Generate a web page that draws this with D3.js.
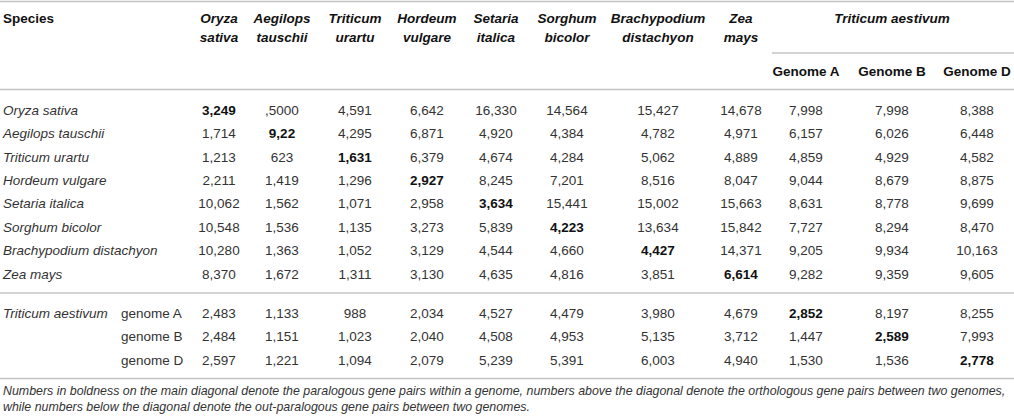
<!DOCTYPE html>
<html>
<head>
<meta charset="utf-8">
<script src="https://cdn.jsdelivr.net/npm/d3@7"></script>
<style>
  body { margin: 0; background: #fff; }
  svg { font-family: "Liberation Sans", Arial, Helvetica, sans-serif; }
</style>
</head>
<body>
<svg></svg>
<script>
// Table content
const speciesCols = ["Oryza sativa", "Aegilops tauschii", "Triticum urartu", "Hordeum vulgare",
  "Setaria italica", "Sorghum bicolor", "Brachypodium distachyon", "Zea mays"];
const genomeCols = ["Genome A", "Genome B", "Genome D"];
const genomeRows = ["genome A", "genome B", "genome D"];

// values kept as printed (including the odd ",5000" and "9,22")
const speciesValues = [
  ["3,249", ",5000", "4,591", "6,642", "16,330", "14,564", "15,427", "14,678", "7,998", "7,998", "8,388"],
  ["1,714", "9,22", "4,295", "6,871", "4,920", "4,384", "4,782", "4,971", "6,157", "6,026", "6,448"],
  ["1,213", "623", "1,631", "6,379", "4,674", "4,284", "5,062", "4,889", "4,859", "4,929", "4,582"],
  ["2,211", "1,419", "1,296", "2,927", "8,245", "7,201", "8,516", "8,047", "9,044", "8,679", "8,875"],
  ["10,062", "1,562", "1,071", "2,958", "3,634", "15,441", "15,002", "15,663", "8,631", "8,778", "9,699"],
  ["10,548", "1,536", "1,135", "3,273", "5,839", "4,223", "13,634", "15,842", "7,727", "8,294", "8,470"],
  ["10,280", "1,363", "1,052", "3,129", "4,544", "4,660", "4,427", "14,371", "9,205", "9,934", "10,163"],
  ["8,370", "1,672", "1,311", "3,130", "4,635", "4,816", "3,851", "6,614", "9,282", "9,359", "9,605"]
];
const genomeValues = [
  ["2,483", "1,133", "988", "2,034", "4,527", "4,479", "3,980", "4,679", "2,852", "8,197", "8,255"],
  ["2,484", "1,151", "1,023", "2,040", "4,508", "4,953", "5,135", "3,712", "1,447", "2,589", "7,993"],
  ["2,597", "1,221", "1,094", "2,079", "5,239", "5,391", "6,003", "4,940", "1,530", "1,536", "2,778"]
];
const footnote = [
  "Numbers in boldness on the main diagonal denote the paralogous gene pairs within a genome, numbers above the diagonal denote the orthologous gene pairs between two genomes,",
  "while numbers below the diagonal denote the out-paralogous gene pairs between two genomes."
];

const width = 1014;
const height = 420;
const allCols = speciesCols.concat(genomeCols);

const svg = d3.select("svg")
    .attr("width", width)
    .attr("height", height);

// column centres
const x = d3.scaleOrdinal()
    .domain(allCols)
    .range([219, 282, 355, 427, 496, 567, 658, 741, 806, 892, 977]);

// row centres
const y = d3.scalePoint().domain(speciesCols).range([110, 274]);
const yg = d3.scalePoint().domain(genomeRows).range([313, 360]);

const textColor = "#333";
const lineColor = "#c4c4c4";

// rules
const rules = [
  { x1: 0, x2: width, y: 1.5 },
  { x1: 772, x2: width, y: 53 },
  { x1: 0, x2: width, y: 89.5 },
  { x1: 0, x2: width, y: 293 },
  { x1: 0, x2: width, y: 378.5 }
];
svg.append("g").selectAll("line")
  .data(rules)
  .enter().append("line")
    .attr("x1", d => d.x1)
    .attr("x2", d => d.x2)
    .attr("y1", d => d.y)
    .attr("y2", d => d.y)
    .attr("stroke", lineColor)
    .attr("stroke-width", 1.6);

// header
const head = svg.append("g")
    .attr("font-size", 13.5)
    .attr("font-weight", "bold")
    .attr("fill", "#111");

head.append("text")
    .attr("x", 3)
    .attr("y", 18)
    .attr("dy", "0.35em")
    .text("Species");

const colHead = head.selectAll(".colhead")
  .data(speciesCols)
  .enter().append("text")
    .attr("class", "colhead")
    .attr("font-style", "italic")
    .attr("text-anchor", "middle")
    .attr("x", d => x(d));
colHead.append("tspan")
    .attr("x", d => x(d))
    .attr("y", 18)
    .attr("dy", "0.35em")
    .text(d => d.split(" ")[0]);
colHead.append("tspan")
    .attr("x", d => x(d))
    .attr("y", 37)
    .attr("dy", "0.35em")
    .text(d => d.split(" ")[1]);

head.append("text")
    .attr("font-style", "italic")
    .attr("text-anchor", "middle")
    .attr("x", x("Genome B"))
    .attr("y", 18)
    .attr("dy", "0.35em")
    .text("Triticum aestivum");

head.selectAll(".genhead")
  .data(genomeCols)
  .enter().append("text")
    .attr("class", "genhead")
    .attr("text-anchor", "middle")
    .attr("x", d => x(d))
    .attr("y", 71)
    .attr("dy", "0.35em")
    .text(d => d);

// body
const body = svg.append("g")
    .attr("font-size", 13.5)
    .attr("fill", textColor);

body.selectAll(".rowlabel")
  .data(speciesCols)
  .enter().append("text")
    .attr("class", "rowlabel")
    .attr("font-style", "italic")
    .attr("x", 3)
    .attr("y", d => y(d))
    .attr("dy", "0.35em")
    .text(d => d);

body.append("text")
    .attr("font-style", "italic")
    .attr("x", 3)
    .attr("y", yg(genomeRows[0]))
    .attr("dy", "0.35em")
    .text("Triticum aestivum");

body.selectAll(".genlabel")
  .data(genomeRows)
  .enter().append("text")
    .attr("class", "genlabel")
    .attr("x", 121)
    .attr("y", d => yg(d))
    .attr("dy", "0.35em")
    .text(d => d);

function cells(rows, rowNames, yScale, diagOffset) {
  const row = body.append("g").selectAll("g")
    .data(rows)
    .enter().append("g")
      .attr("transform", (d, i) => `translate(0,${yScale(rowNames[i])})`);
  row.selectAll("text")
    .data((d, i) => d.map((v, j) => ({ v, col: allCols[j], bold: j === i + diagOffset })))
    .enter().append("text")
      .attr("text-anchor", "middle")
      .attr("x", d => x(d.col))
      .attr("dy", "0.35em")
      .attr("font-weight", d => d.bold ? "bold" : null)
      .attr("fill", d => d.bold ? "#111" : null)
      .text(d => d.v);
}
cells(speciesValues, speciesCols, y, 0);
cells(genomeValues, genomeRows, yg, 8);

// footnote
svg.append("g")
    .attr("font-size", 12.4)
    .attr("font-style", "italic")
    .attr("fill", textColor)
  .selectAll("text")
  .data(footnote)
  .enter().append("text")
    .attr("x", 3)
    .attr("y", (d, i) => 391 + i * 16)
    .attr("dy", "0.35em")
    .text(d => d);
</script>
</body>
</html>
